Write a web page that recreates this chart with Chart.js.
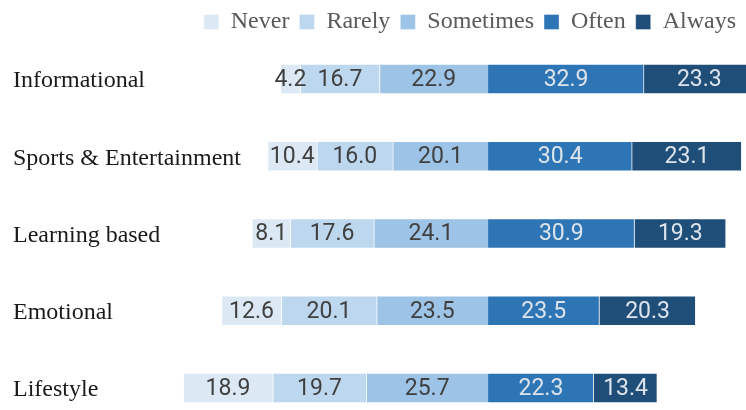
<!DOCTYPE html>
<html>
<head>
<meta charset="utf-8">
<style>
  html, body { margin: 0; padding: 0; background: #fff; }
</style>
</head>
<body>
<canvas id="chart" width="746" height="410"></canvas>
<script src="https://cdn.jsdelivr.net/npm/chart.js@4/dist/chart.umd.min.js"></script>
<script>
// Survey shares (%) per content type, one array per answer.
const categories = ["Informational", "Sports & Entertainment", "Learning based", "Emotional", "Lifestyle"];
const never = [4.2, 10.4, 8.1, 12.6, 18.9];
const rarely = [16.7, 16.0, 17.6, 20.1, 19.7];
const sometimes = [22.9, 20.1, 24.1, 23.5, 25.7];
const often = [32.9, 30.4, 30.9, 23.5, 22.3];
const always = [23.3, 23.1, 19.3, 20.3, 13.4];
const legendOrder = ["Never", "Rarely", "Sometimes", "Often", "Always"];

const neg = (arr) => arr.map((v) => -v);

// Left-hand answers are negative so they stack leftwards from the split;
// "Sometimes" comes first so it sits next to zero.
const datasets = [
  { label: "Sometimes", data: neg(sometimes), backgroundColor: "#9dc3e6", labelColor: "#404040" },
  { label: "Rarely", data: neg(rarely), backgroundColor: "#bdd7ee", labelColor: "#404040" },
  { label: "Never", data: neg(never), backgroundColor: "#dce9f5", labelColor: "#404040" },
  { label: "Often", data: often, backgroundColor: "#2e75b6", labelColor: "#dde4ec" },
  { label: "Always", data: always, backgroundColor: "#1f4e79", labelColor: "#dde4ec" },
];
datasets.forEach((d) => {
  d.barThickness = 30;
  d.borderWidth = 1;
  d.borderColor = "rgba(255,255,255,0.35)";
  d.clip = false; // end bars reach past the plot area, like the original
});

// Segment values drawn in the middle of each bar piece.
const valueLabels = {
  id: "valueLabels",
  afterDatasetsDraw(chart) {
    const ctx = chart.ctx;
    ctx.save();
    ctx.font = "23px Roboto";
    ctx.textAlign = "center";
    ctx.textBaseline = "middle";
    chart.data.datasets.forEach((ds, di) => {
      chart.getDatasetMeta(di).data.forEach((bar, i) => {
        ctx.fillStyle = ds.labelColor;
        ctx.fillText(Math.abs(ds.data[i]).toFixed(1), (bar.x + bar.base) / 2, bar.y + 1);
      });
    });
    ctx.restore();
  },
};

// Push the plot area down below the legend.
const legendGap = {
  id: "legendGap",
  beforeLayout(chart) {
    const lg = chart.legend;
    if (lg && !lg._gapPatched) {
      const fit = lg.fit;
      lg.fit = function () {
        fit.call(this);
        this.height += 35;
      };
      lg._gapPatched = true;
    }
  },
};

new Chart(document.getElementById("chart"), {
  type: "bar",
  data: { labels: categories, datasets },
  plugins: [valueLabels, legendGap],
  options: {
    indexAxis: "y",
    responsive: false,
    animation: false,
    layout: { padding: { left: 13, right: 0, top: 0, bottom: 22 } },
    plugins: {
      tooltip: { enabled: false },
      legend: {
        position: "top",
        align: "end",
        labels: {
          boxWidth: 15,
          boxHeight: 15,
          padding: 10,
          color: "#595959",
          font: { family: "'Liberation Serif', serif", size: 24 },
          sort: (a, b) => legendOrder.indexOf(a.text) - legendOrder.indexOf(b.text),
        },
      },
    },
    scales: {
      // zero sits at x=488, about 4.74 px per percentage point
      x: { stacked: true, display: false, min: -100.2, max: 54.4 },
      y: {
        stacked: true,
        offset: false,
        grid: { display: false },
        border: { display: false },
        afterFit: (scale) => { scale.width = 0; },
        ticks: {
          mirror: true,
          crossAlign: "near",
          padding: 0,
          labelOffset: 2,
          color: "#1a1a1a",
          font: { family: "'Liberation Serif', serif", size: 24 },
        },
      },
    },
  },
});
</script>
</body>
</html>
